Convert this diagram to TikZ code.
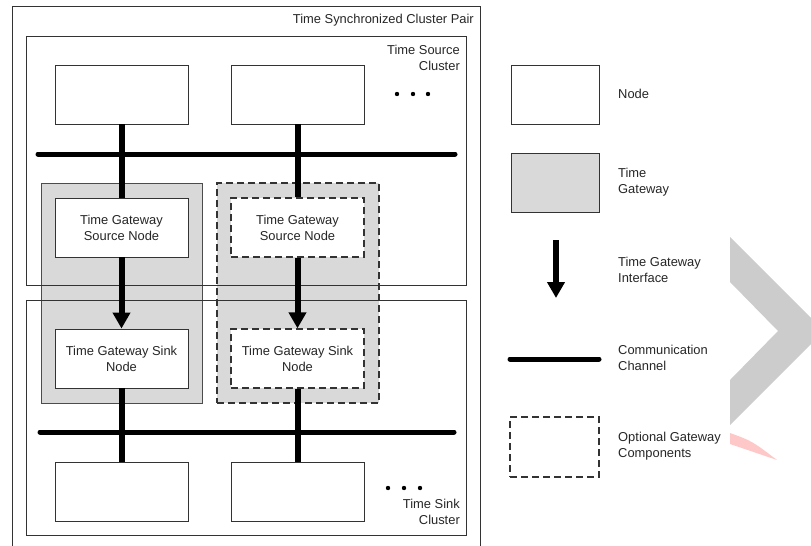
\documentclass[tikz,border=0pt]{standalone}
\usepackage{fontspec}
\setmainfont{Liberation Sans}
\usetikzlibrary{arrows.meta}
\definecolor{gwgray}{HTML}{D9D9D9}
\definecolor{markgray}{HTML}{CCCCCC}
\definecolor{markpink}{HTML}{FFC8C8}
\tikzset{
	box/.style={draw=black!80, line width=0.9pt, fill=white, minimum width=133pt, minimum height=59pt, inner sep=0pt, align=center, text=black!85, font=\fontsize{12.9}{16}\selectfont},
	optbox/.style={box, dash pattern=on 7pt off 4pt, line width=1.3pt},
	gwbox/.style={draw=black!70, line width=0.9pt, fill=gwgray, minimum width=161pt, minimum height=220pt, inner sep=0pt},
	bus/.style={line width=5pt, line cap=round},
	link/.style={line width=6pt},
	iface/.style={line width=6pt, -{Triangle[width=17pt,length=16pt]}},
	lbl/.style={inner sep=0pt, align=left, text=black!85, font=\fontsize{12.9}{16}\selectfont},
}

\begin{document}
\begin{tikzpicture}[x=1pt, y=-1pt]
		%%%%% START %%%%%
		\useasboundingbox (0,0) rectangle (811,546);
		
		% watermark
		\fill[markgray] (730,237) -- (824,331) -- (730,425) -- (730,380) -- (778,331) -- (730,282) -- cycle;
		\fill[markpink] (730,433) .. controls (752,441) .. (777,460) -- (730,444) -- cycle;
		
		% time gateways
		\node[gwbox] (gwA) at (121.5,293) {};
		\node[gwbox, minimum width=162pt, dash pattern=on 7pt off 4pt, line width=1.3pt, draw=black!80] (gwB) at (298,293) {};
		
		% clusters
		\draw[line width=0.9pt, black!80] (12,550) |- (480,6) -- (480,550);
		\draw[line width=0.9pt, black!80] (26,36) rectangle (466,285);
		\draw[line width=0.9pt, black!80] (26,300) rectangle (466,535);
		\node[lbl, anchor=east] (pair) at (474,20) {Time Synchronized Cluster Pair};
		\node[lbl, anchor=east, align=right] (srcname) at (460,58) {Time Source\\Cluster};
		\node[lbl, anchor=east, align=right] (snkname) at (460,512) {Time Sink\\Cluster};
		
		% nodes
		\node[box] (srcA) at (121.5,94.5) {};
		\node[box] (srcB) at (297.5,94.5) {};
		\node[box] (gwsrcA) at (121.5,227.5) {Time Gateway\\Source Node};
		\node[optbox] (gwsrcB) at (297.5,227.5) {Time Gateway\\Source Node};
		\node[box] (gwsnkA) at (121.5,358.5) {Time Gateway Sink\\Node};
		\node[optbox] (gwsnkB) at (297.5,358.5) {Time Gateway Sink\\Node};
		\node[box] (snkA) at (121.5,491.5) {};
		\node[box] (snkB) at (297.5,491.5) {};
		
		\foreach \x in {397,413,428} \fill (\x,94) circle (2.2);
		\foreach \x in {388,404,420} \fill (\x,488) circle (2.2);
		
		% channels
		\coordinate (busTL) at (38,154);
		\coordinate (busTR) at (455,154);
		\coordinate (busBL) at (40,432);
		\coordinate (busBR) at (454,432);
		\draw[bus] (busTL) -- (busTR);
		\draw[bus] (busBL) -- (busBR);
		
		\draw[link] (srcA) -- (gwsrcA);
		\draw[link] (srcB) -- (gwsrcB);
		\draw[iface] (gwsrcA) -- (gwsnkA);
		\draw[iface] (gwsrcB) -- (gwsnkB);
		\draw[link] (gwsnkA) -- (snkA);
		\draw[link] (gwsnkB) -- (snkB);
		
		% legend
		\node[box, minimum width=88pt] (lgNode) at (555,94.5) {};
		\node[lbl, anchor=west] (lgNodeTxt) at (618,94) {Node};
		\node[box, minimum width=88pt, fill=gwgray] (lgGw) at (555,182.5) {};
		\node[lbl, anchor=west] (lgGwTxt) at (618,182) {Time\\Gateway};
		\coordinate (lgArrTop) at (556,240);
		\coordinate (lgArrBot) at (556,298);
		\draw[iface] (lgArrTop) -- (lgArrBot);
		\node[lbl, anchor=west] (lgArrTxt) at (618,270) {Time Gateway\\Interface};
		\coordinate (lgBusL) at (510,359);
		\coordinate (lgBusR) at (599,359);
		\draw[bus] (lgBusL) -- (lgBusR);
		\node[lbl, anchor=west] (lgBusTxt) at (618,358) {Communication\\Channel};
		\node[optbox, minimum width=89pt, minimum height=60pt] (lgOpt) at (554.5,447) {};
		\node[lbl, anchor=west] (lgOptTxt) at (618,446) {Optional Gateway\\Components};
		
		%%%%% END %%%%%
	\end{tikzpicture}
\end{document}
